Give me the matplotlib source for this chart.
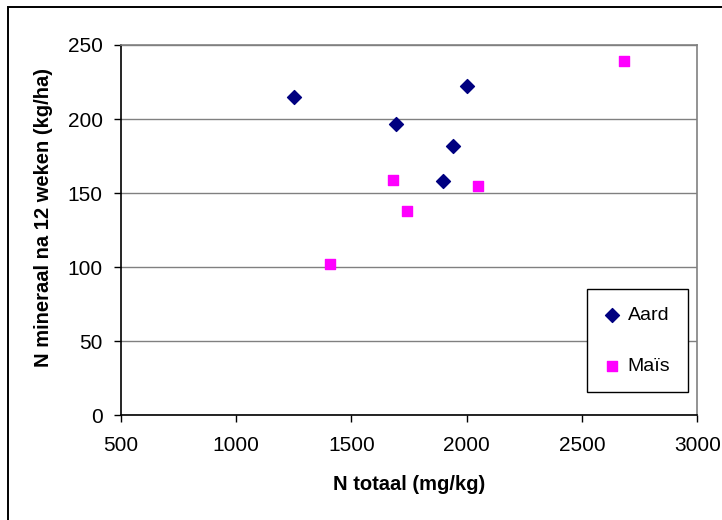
import matplotlib
matplotlib.use("Agg")
import matplotlib.pyplot as plt
from matplotlib.patches import Rectangle

plt.rcParams['font.family'] = ['Liberation Sans', 'DejaVu Sans']

# N totaal (mg/kg) vs N mineraal na 12 weken (kg/ha)
aard_x = [1250, 1695, 2000, 1942, 1896]
aard_y = [215, 197, 222, 182, 158]
mais_x = [1682, 1742, 2048, 1407, 2682]
mais_y = [159, 138, 155, 102, 239]

x_ticks = [500, 1000, 1500, 2000, 2500, 3000]
y_ticks = [0, 50, 100, 150, 200, 250]

W, H = 722, 520
fig = plt.figure(figsize=(W / 100, H / 100), dpi=100)
ax = fig.add_axes([120.8 / W, 1 - 415.3 / H, (697.3 - 120.8) / W, (415.3 - 45) / H])

# outer chart border (cut off at right and bottom)
fig.add_artist(Rectangle((8 / W, -0.1), 1.2, 1 - 7 / H + 0.1, transform=fig.transFigure,
                         fill=False, edgecolor='black', linewidth=1.4, clip_on=False))

ax.scatter(aard_x, aard_y, marker='D', s=50, color='#000080', label='Aard', zorder=3)
ax.scatter(mais_x, mais_y, marker='s', s=52, color='#FF00FF', label='Maïs', zorder=3)

ax.set_xlim(500, 3000)
ax.set_ylim(0, 250)
ax.set_xticks(x_ticks)
ax.set_yticks(y_ticks)
ax.yaxis.grid(True, color='#808080', linewidth=1)
ax.set_axisbelow(True)

for s in ['top', 'right']:
    ax.spines[s].set_color('#808080')
    ax.spines[s].set_linewidth(1.2)
for s in ['left', 'bottom']:
    ax.spines[s].set_color('black')
    ax.spines[s].set_linewidth(1.2)

ax.tick_params(axis='both', direction='out', length=5, width=1, labelsize=15)
ax.tick_params(axis='y', pad=8)
ax.tick_params(axis='x', pad=10)

ax.set_xlabel('N totaal (mg/kg)', fontsize=14.5, fontweight='bold', labelpad=14)
ax.set_ylabel('N mineraal na 12 weken (kg/ha)', fontsize=14.5, fontweight='bold')
ax.yaxis.set_label_coords(-0.118, 0.533)

leg = ax.legend(loc='upper left', bbox_to_anchor=(587 / W, 1 - 289 / H), bbox_transform=fig.transFigure,
                fontsize=14, frameon=True, fancybox=False, edgecolor='black', framealpha=1,
                borderpad=0.9, labelspacing=1.7, handlelength=0.8, handletextpad=0.4,
                borderaxespad=0, scatterpoints=1)
leg.get_frame().set_linewidth(1)

fig.savefig('out.png', dpi=100)
